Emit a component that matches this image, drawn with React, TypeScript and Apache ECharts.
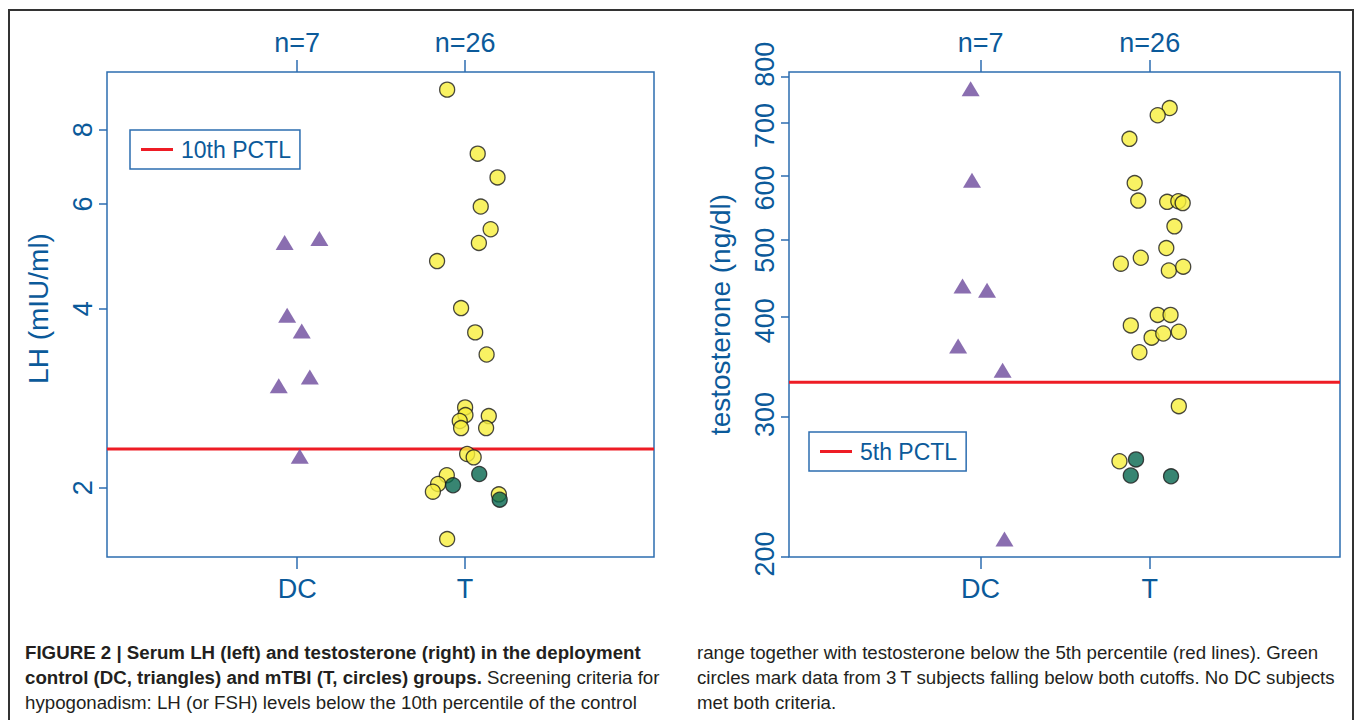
import React, { useEffect, useRef } from "react";
import * as echarts from "echarts";

// ---------- data ----------
const GROUPS = ["DC", "T"];
const GROUP_POS = [1, 2];
const X_MIN = -0.133;
const X_MAX = 3.125;

// LH panel (mIU/ml)
const LH_TICKS = [2, 4, 6, 8];
const LH_MIN = 1.53;
const LH_MAX = 10;
const LH_CUTOFF = 2.325;
const LH_DC = [5.17, 5.25, 3.9, 3.67, 2.97, 3.07, 2.26];
const LH_DC_X = [0.925, 1.132, 0.94, 1.027, 0.89, 1.075, 1.015];
const LH_T_YELLOW = [9.34, 7.29, 6.65, 5.94, 5.44, 5.16, 4.81, 4.01, 3.65, 3.35, 2.73, 2.65, 2.64, 2.59, 2.52, 2.52, 2.28, 2.25, 2.1, 2.03, 1.97, 1.95, 1.64];
const LH_T_YELLOW_X = [1.893, 2.075, 2.193, 2.093, 2.152, 2.082, 1.833, 1.976, 2.06, 2.128, 2.0, 2.002, 2.141, 1.968, 1.976, 2.125, 2.012, 2.051, 1.891, 1.839, 1.808, 2.201, 1.893];
const LH_T_GREEN = [2.11, 2.02, 1.91];
const LH_T_GREEN_X = [2.084, 1.928, 2.206];

// Testosterone panel (ng/dl)
const TE_TICKS = [200, 300, 400, 500, 600, 700, 800];
const TE_MIN = 200;
const TE_MAX = 810;
const TE_CUTOFF = 331;
const TE_DC = [772, 593, 437, 431.5, 367.5, 342.6, 210.7];
const TE_DC_X = [0.941, 0.949, 0.893, 1.038, 0.867, 1.13, 1.141];
const TE_T_YELLOW = [730, 715, 668, 588, 559, 557, 558, 555, 519, 487.5, 466, 474, 457, 462, 402, 402, 390, 376.5, 381, 383, 361, 309, 263.6];
const TE_T_YELLOW_X = [2.118, 2.047, 1.88, 1.911, 1.932, 2.103, 2.169, 2.195, 2.146, 2.098, 1.829, 1.947, 2.113, 2.198, 2.047, 2.123, 1.888, 2.011, 2.08, 2.172, 1.939, 2.172, 1.821];
const TE_T_GREEN = [265, 253, 252.4];
const TE_T_GREEN_X = [1.919, 1.888, 2.126];

const CAPTION_LEFT = [
  [{ t: "FIGURE 2 | Serum LH (left) and testosterone (right) in the deployment", b: true }],
  [
    { t: "control (DC, triangles) and mTBI (T, circles) groups.", b: true },
    { t: " Screening criteria for", b: false },
  ],
  [{ t: "hypogonadism: LH (or FSH) levels below the 10th percentile of the control", b: false }],
];
const CAPTION_RIGHT = [
  "range together with testosterone below the 5th percentile (red lines). Green",
  "circles mark data from 3\u2009T subjects falling below both cutoffs. No DC subjects",
  "met both criteria.",
];

// ---------- styles ----------
const FONT = "'Liberation Sans', Arial, Helvetica, sans-serif";
const BLUE_TEXT = "#0b5a9a";
const BLUE_AXIS = "#2c6db0";
const PURPLE = "#6d4a9c";
const YELLOW = "#f8ef3c";
const GREEN = "#06664f";
const RED = "#ee1c25";
// on-screen vertical nudge (px, + = down) of each testosterone tick label, as in the source figure
const TE_LABEL_NUDGE: Record<number, number> = { 200: -3, 300: -2, 400: 4, 500: 11, 600: 12, 700: 3, 800: -12 };

const zip = (xs: number[], ys: number[]) => ys.map((y, i) => [xs[i], y]);

export default function App() {
  const ref = useRef<HTMLDivElement>(null);

  useEffect(() => {
    if (!ref.current) return;
    const chart = echarts.init(ref.current, null, { renderer: "svg" });

    const grids = [
      { left: 107, top: 72, width: 547, height: 485 },
      { left: 789, top: 72, width: 551, height: 485 },
    ];

    const nLabels = [
      [`n=${LH_DC.length}`, `n=${LH_T_YELLOW.length + LH_T_GREEN.length}`],
      [`n=${TE_DC.length}`, `n=${TE_T_YELLOW.length + TE_T_GREEN.length}`],
    ];

    const xAxes: any[] = [];
    [0, 1].forEach((g) => {
      xAxes.push({
        type: "value",
        gridIndex: g,
        position: "bottom",
        min: X_MIN,
        max: X_MAX,
        axisLine: { show: false, onZero: false },
        splitLine: { show: false },
        axisTick: { show: true, length: 12, customValues: GROUP_POS, lineStyle: { color: BLUE_AXIS, width: 1.5 } },
        axisLabel: {
          customValues: GROUP_POS,
          margin: 18,
          fontSize: 27,
          fontFamily: FONT,
          color: BLUE_TEXT,
          formatter: (v: number) => GROUPS[GROUP_POS.indexOf(v)] ?? "",
        },
      });
      xAxes.push({
        type: "value",
        gridIndex: g,
        position: "top",
        min: X_MIN,
        max: X_MAX,
        axisLine: { show: false, onZero: false },
        splitLine: { show: false },
        axisTick: { show: true, length: 12, customValues: GROUP_POS, lineStyle: { color: BLUE_AXIS, width: 1.5 } },
        axisLabel: {
          customValues: GROUP_POS,
          margin: 16,
          fontSize: 27,
          fontFamily: FONT,
          color: BLUE_TEXT,
          formatter: (v: number) => nLabels[g][GROUP_POS.indexOf(v)] ?? "",
        },
      });
    });

    const teRich: Record<string, any> = {};
    TE_TICKS.forEach((t) => {
      const s = TE_LABEL_NUDGE[t] || 0;
      teRich["v" + t] = {
        fontSize: 27,
        fontFamily: FONT,
        color: BLUE_TEXT,
        padding: s < 0 ? [0, 0, 0, -2 * s] : [0, 2 * s, 0, 0],
      };
    });

    const yAxes = [
      {
        type: "log",
        gridIndex: 0,
        position: "left",
        min: LH_MIN,
        max: LH_MAX,
        name: "LH (mIU/ml)",
        nameLocation: "middle",
        nameGap: 55,
        nameTextStyle: { fontSize: 28, fontFamily: FONT, color: BLUE_TEXT, padding: [0, 0, 0, 12] },
        axisLine: { show: false, onZero: false },
        splitLine: { show: false },
        axisTick: { show: true, length: 8, customValues: LH_TICKS, lineStyle: { color: BLUE_AXIS, width: 1.5 } },
        axisLabel: {
          customValues: LH_TICKS,
          rotate: 90,
          margin: 11,
          fontSize: 27,
          fontFamily: FONT,
          color: BLUE_TEXT,
          formatter: (v: number) => String(Math.round(v)),
        },
      },
      {
        type: "log",
        gridIndex: 1,
        position: "left",
        min: TE_MIN,
        max: TE_MAX,
        name: "testosterone (ng/dl)",
        nameLocation: "middle",
        nameGap: 55,
        nameTextStyle: { fontSize: 28, fontFamily: FONT, color: BLUE_TEXT },
        axisLine: { show: false, onZero: false },
        splitLine: { show: false },
        axisTick: { show: true, length: 8, customValues: TE_TICKS, lineStyle: { color: BLUE_AXIS, width: 1.5 } },
        axisLabel: {
          customValues: TE_TICKS,
          rotate: 90,
          margin: 11,
          fontSize: 27,
          fontFamily: FONT,
          color: BLUE_TEXT,
          rich: teRich,
          formatter: (v: number) => {
            const r = Math.round(v);
            return `{v${r}|${r}}`;
          },
        },
      },
    ];

    const tri = (name: string, xIdx: number, yIdx: number, xs: number[], ys: number[]) => ({
      type: "scatter",
      name,
      xAxisIndex: xIdx,
      yAxisIndex: yIdx,
      symbol: "triangle",
      symbolSize: [18, 15],
      itemStyle: { color: PURPLE },
      z: 4,
      data: zip(xs, ys),
    });
    const circ = (name: string, xIdx: number, yIdx: number, xs: number[], ys: number[], color: string, z: number) => ({
      type: "scatter",
      name,
      xAxisIndex: xIdx,
      yAxisIndex: yIdx,
      symbol: "circle",
      symbolSize: 15,
      itemStyle: { color, borderColor: "#1a1a1a", borderWidth: 1.3 },
      z,
      data: zip(xs, ys),
    });
    const cut = (name: string, xIdx: number, yIdx: number, v: number) => ({
      type: "line",
      name,
      xAxisIndex: xIdx,
      yAxisIndex: yIdx,
      symbol: "none",
      showSymbol: false,
      lineStyle: { color: RED, width: 3 },
      itemStyle: { color: RED },
      z: 3,
      data: [
        [X_MIN, v],
        [X_MAX, v],
      ],
    });

    const legendBase = {
      orient: "horizontal",
      selectedMode: false,
      borderColor: BLUE_AXIS,
      borderWidth: 1.5,
      borderRadius: 0,
      padding: [8, 9, 8, 11],
      icon: "rect",
      itemWidth: 32,
      itemHeight: 3,
      textStyle: { fontSize: 23, fontFamily: FONT, color: BLUE_TEXT, padding: [0, 0, 0, 3] },
    };

    const captionEls: any[] = [];
    const capFont = 18.7;
    const capColor = "#231f20";
    const lineYs = [652, 677, 702];
    CAPTION_LEFT.forEach((parts, i) => {
      captionEls.push({
        type: "text",
        x: 25,
        y: lineYs[i],
        style: {
          text: parts.map((p) => `{${p.b ? "b" : "r"}|${p.t}}`).join(""),
          verticalAlign: "middle",
          rich: {
            b: { fontSize: capFont, fontFamily: FONT, fontWeight: "bold", fill: capColor, color: capColor },
            r: { fontSize: capFont, fontFamily: FONT, fill: capColor, color: capColor },
          },
        },
      });
    });
    CAPTION_RIGHT.forEach((t, i) => {
      captionEls.push({
        type: "text",
        x: 697,
        y: lineYs[i],
        style: {
          text: t,
          fontSize: capFont,
          fontFamily: FONT,
          fill: capColor,
          verticalAlign: "middle",
        },
      });
    });

    chart.setOption({
      animation: false,
      backgroundColor: "#ffffff",
      grid: grids.map((g) => ({ ...g, show: true, borderColor: BLUE_AXIS, borderWidth: 1.5, backgroundColor: "transparent" })),
      xAxis: xAxes,
      yAxis: yAxes,
      legend: [
        { ...legendBase, data: ["10th PCTL"], left: 130, top: 130 },
        { ...legendBase, data: ["5th PCTL"], left: 809, top: 432 },
      ],
      series: [
        cut("10th PCTL", 0, 0, LH_CUTOFF),
        tri("DC", 0, 0, LH_DC_X, LH_DC),
        circ("T", 0, 0, LH_T_YELLOW_X, LH_T_YELLOW, YELLOW, 5),
        circ("T below both", 0, 0, LH_T_GREEN_X, LH_T_GREEN, GREEN, 6),
        cut("5th PCTL", 2, 1, TE_CUTOFF),
        tri("DC ", 2, 1, TE_DC_X, TE_DC),
        circ("T ", 2, 1, TE_T_YELLOW_X, TE_T_YELLOW, YELLOW, 5),
        circ("T below both ", 2, 1, TE_T_GREEN_X, TE_T_GREEN, GREEN, 6),
      ],
      graphic: [
        {
          type: "polyline",
          shape: { points: [[9, 720], [9, 10], [1353, 10], [1353, 720]] },
          style: { stroke: "#333333", lineWidth: 2, fill: "none" },
          silent: true,
        },
        ...captionEls,
      ],
    });

    return () => chart.dispose();
  }, []);

  return <div ref={ref} style={{ position: "absolute", left: 0, top: 0, width: 1355, height: 720 }} />;
}
